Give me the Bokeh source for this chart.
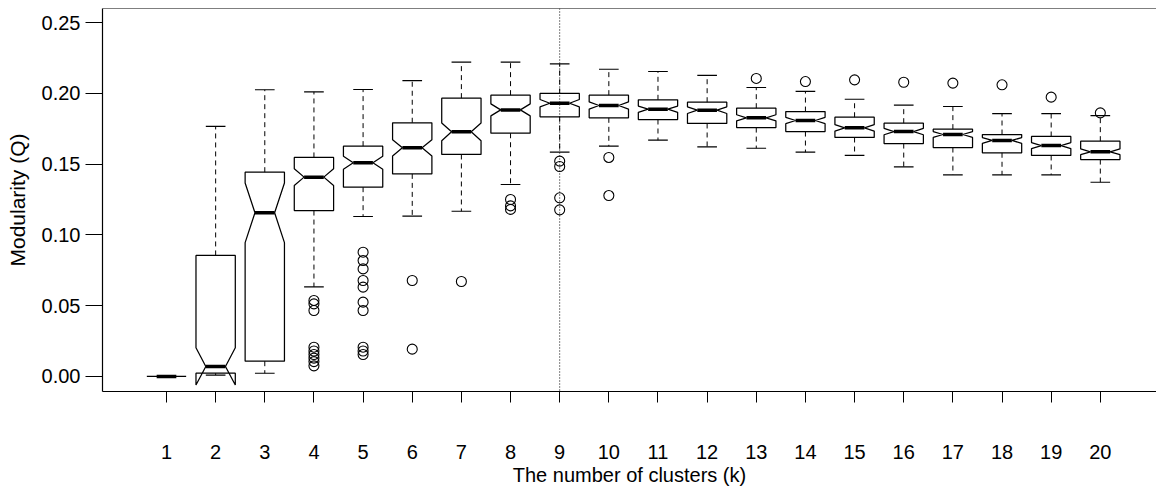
from math import sqrt
from bokeh.plotting import figure
from bokeh.models import Range1d, FixedTicker, PrintfTickFormatter, Span
from bokeh.embed import file_html
from bokeh.resources import INLINE

# ---- data ----
k = [1, 2, 3, 4, 5, 6, 7, 8, 9, 10, 11, 12, 13, 14, 15, 16, 17, 18, 19, 20]
upper_whisker = [0.0000, 0.1766, 0.2025, 0.2010, 0.2027, 0.2090, 0.2220, 0.2220, 0.2208, 0.2170,
                 0.2154, 0.2126, 0.2041, 0.2013, 0.1958, 0.1916, 0.1907, 0.1857, 0.1857, 0.1843]
q3 = [0.0000, 0.0855, 0.1443, 0.1547, 0.1627, 0.1792, 0.1966, 0.1987, 0.1999, 0.1987,
      0.1954, 0.1937, 0.1895, 0.1871, 0.1831, 0.1789, 0.1747, 0.1709, 0.1695, 0.1662]
median = [0.0000, 0.0071, 0.1156, 0.1408, 0.1509, 0.1615, 0.1728, 0.1883, 0.1930, 0.1914,
          0.1888, 0.1881, 0.1827, 0.1808, 0.1756, 0.1730, 0.1709, 0.1667, 0.1631, 0.1587]
q1 = [0.0000, 0.0023, 0.0108, 0.1172, 0.1337, 0.1431, 0.1568, 0.1718, 0.1834, 0.1827,
      0.1815, 0.1787, 0.1758, 0.1730, 0.1688, 0.1645, 0.1617, 0.1580, 0.1561, 0.1532]
lower_whisker = [0.0000, 0.0010, 0.0023, 0.0633, 0.1130, 0.1132, 0.1167, 0.1356, 0.1584, 0.1627,
                 0.1669, 0.1622, 0.1612, 0.1584, 0.1561, 0.1481, 0.1424, 0.1424, 0.1424, 0.1372]
outliers = [
    [],
    [],
    [],
    [0.0537, 0.0513, 0.0466, 0.0207, 0.0180, 0.0155, 0.0130, 0.0105, 0.0075],
    [0.0878, 0.0819, 0.0760, 0.0678, 0.0631, 0.0525, 0.0466, 0.0207, 0.0180, 0.0155],
    [0.0678, 0.0193],
    [0.0671],
    [0.1250, 0.1205, 0.1180],
    [0.1521, 0.1483, 0.1262, 0.1177],
    [0.1547, 0.1278],
    [],
    [],
    [0.2105],
    [0.2083],
    [0.2095],
    [0.2078],
    [0.2072],
    [0.2060],
    [0.1973],
    [0.1862],
]
n_obs = 100
y_ticks = [0.00, 0.05, 0.10, 0.15, 0.20, 0.25]
chosen_k = 9
x_title = "The number of clusters (k)"
y_title = "Modularity (Q)"

# ---- geometry (R boxplot defaults) ----
box_half = 0.4
notch_half = 0.2
staple_half = 0.2

xs, ys = [], []
med_x0, med_x1 = [], []
st_x0, st_x1 = [], []
for i, x in enumerate(k):
    nh = 1.58 * (q3[i] - q1[i]) / sqrt(n_obs)
    lo, hi = median[i] - nh, median[i] + nh
    xs.append([x - box_half, x - box_half, x - notch_half, x - box_half, x - box_half,
               x + box_half, x + box_half, x + notch_half, x + box_half, x + box_half])
    ys.append([q1[i], lo, median[i], hi, q3[i], q3[i], hi, median[i], lo, q1[i]])
    med_x0.append(x - notch_half)
    med_x1.append(x + notch_half)
    st_x0.append(x - staple_half)
    st_x1.append(x + staple_half)

out_x, out_y = [], []
for i, x in enumerate(k):
    for v in outliers[i]:
        out_x.append(x)
        out_y.append(v)

FONT = "Liberation Sans"

p = figure(width=1156, height=488, output_backend="svg", toolbar_location=None,
           title_location=None,
           x_range=Range1d(-0.302, 21.143), y_range=Range1d(-0.0106, 0.2599),
           min_border_left=102, min_border_right=0, min_border_top=8, min_border_bottom=97)
p.outline_line_color = None
p.background_fill_color = "white"
p.border_fill_color = "white"
p.grid.visible = False

# whiskers (dashed)
p.segment(x0=k, y0=q3, x1=k, y1=upper_whisker, line_color="black", line_width=1, line_dash="5 4")
p.segment(x0=k, y0=q1, x1=k, y1=lower_whisker, line_color="black", line_width=1, line_dash="5 4")
# staples
p.segment(x0=st_x0, y0=upper_whisker, x1=st_x1, y1=upper_whisker, line_color="black", line_width=1.2)
p.segment(x0=st_x0, y0=lower_whisker, x1=st_x1, y1=lower_whisker, line_color="black", line_width=1.2)
# notched boxes
p.patches(xs, ys, fill_color=None, line_color="black", line_width=1.25)
# medians
p.segment(x0=med_x0, y0=median, x1=med_x1, y1=median, line_color="black", line_width=3.5)
# outliers
p.scatter(out_x, out_y, marker="circle", size=10, fill_color=None, line_color="black", line_width=1.1)

# vertical dotted line at chosen k
p.add_layout(Span(location=chosen_k, dimension="height", line_color="black",
                  line_width=1, line_dash="1 2"))
# top frame line
p.add_layout(Span(location=0.2599, dimension="width", line_color="black", line_width=1.2))

# axes
xa = p.xaxis[0]
xa.ticker = FixedTicker(ticks=k)
xa.axis_label = x_title
xa.major_tick_in = 0
xa.major_tick_out = 11
xa.minor_tick_line_color = None
xa.major_label_standoff = 42
xa.axis_label_standoff = 2
xa.axis_label_text_font_size = "20px"
ya = p.yaxis[0]
ya.ticker = FixedTicker(ticks=y_ticks)
ya.formatter = PrintfTickFormatter(format="%.2f")
ya.axis_label = y_title
ya.major_tick_in = 0
ya.major_tick_out = 17
ya.minor_tick_line_color = None
ya.major_label_standoff = 5
ya.axis_label_standoff = 10
ya.axis_label_text_font_size = "21px"
for a in (xa, ya):
    a.axis_line_color = "black"
    a.axis_line_width = 1.2
    a.major_tick_line_color = "black"
    a.major_tick_line_width = 1
    a.major_label_text_font = FONT
    a.major_label_text_font_size = "20px"
    a.major_label_text_color = "black"
    a.axis_label_text_font = FONT
    a.axis_label_text_font_style = "normal"
    a.axis_label_text_color = "black"

open("out.html", "w").write(file_html(p, INLINE))
